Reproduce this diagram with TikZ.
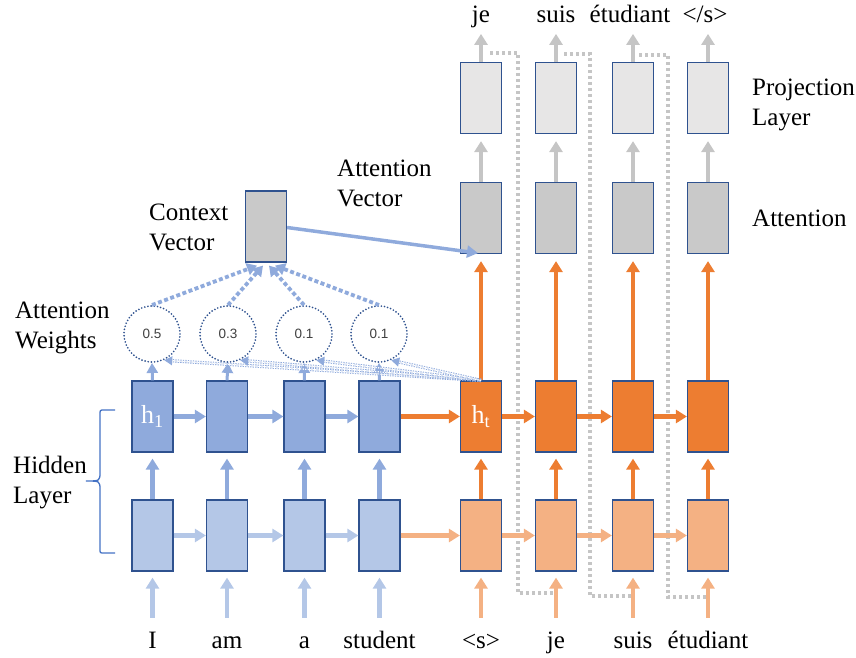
\documentclass[tikz,border=0pt]{standalone}
\usepackage{fontspec}
\setmainfont{Liberation Serif}
\newfontfamily\weightfont{Liberation Sans}
\usepackage{tikz}
\usetikzlibrary{positioning,calc,arrows.meta}

\definecolor{encup}{HTML}{8FAADC}
\definecolor{enclow}{HTML}{B4C7E7}
\definecolor{decup}{HTML}{ED7D31}
\definecolor{declow}{HTML}{F4B183}
\definecolor{attgray}{HTML}{C9C9C9}
\definecolor{projgray}{HTML}{E7E6E6}
\definecolor{flowgray}{HTML}{C5C5C5}
\definecolor{boxline}{HTML}{2F528F}
\definecolor{bracecol}{HTML}{4472C4}

\tikzset{
	cell/.style={draw=boxline, line width=1.2pt, minimum width=41pt, minimum height=71pt,
		inner sep=0pt, text=white, font=\fontsize{26}{30}\selectfont},
	topenc/.style={fill=encup},
	lowenc/.style={fill=enclow},
	topdec/.style={fill=decup},
	lowdec/.style={fill=declow},
	attcell/.style={fill=attgray},
	projcell/.style={fill=projgray},
	weight/.style={circle, draw=boxline, line width=1.9pt, line cap=round, dash pattern=on 0pt off 3.2pt,
		minimum size=56pt, inner sep=0pt, text=black!75, font=\weightfont\fontsize{13.5}{15}\selectfont},
	word/.style={font=\fontsize{25}{30}\selectfont, inner sep=0pt},
	flow/.style={line width=4.5pt, -{Triangle[width=13pt,length=11pt]}},
	feedback/.style={draw=flowgray, line width=3.5pt, dash pattern=on 3pt off 3pt},
	score/.style={draw=encup, line width=1pt, double=white, double distance=1.3pt,
		dash pattern=on 1.3pt off 1.2pt, -{Triangle[width=9pt,length=8pt]}},
	sum/.style={encup, line width=3.8pt, dash pattern=on 4pt off 2.5pt, -{Triangle[width=12pt,length=10pt]}},
}

\newcommand{\mycell}[5][]{
	\node [cell, #4] (#1) at (#2, #3) {#5};
}
\newcommand{\wflow}[3][]{
	\path [draw, flow, #1] (#2) -- (#3);
}

\begin{document}
\begin{tikzpicture}[x=1pt, y=-1pt]
		\useasboundingbox (0,0) rectangle (856,658);
		
		% words fed back into the decoder
		\draw[feedback] ($(481,98)+(9,-45)$) -| (518,593) -- (556,593);
		\draw[feedback] ($(556,98)+(8,-44)$) -| (590,596) -- (633,596);
		\draw[feedback] ($(633,98)+(6,-43)$) -| (668,597) -- (708,597);
		
		\mycell[p1]{481}{98}{projcell}{}
		\mycell[p2]{556}{98}{projcell}{}
		\mycell[p3]{633}{98}{projcell}{}
		\mycell[p4]{708}{98}{projcell}{}
		
		\mycell[a1]{481}{218}{attcell}{}
		\mycell[a2]{556}{218}{attcell}{}
		\mycell[a3]{633}{218}{attcell}{}
		\mycell[a4]{708}{218}{attcell}{}
		\mycell[ctx]{266}{226.5}{attcell}{}
		
		\mycell[e1t]{152.5}{416.5}{topenc}{h\textsubscript{1}}
		\mycell[e2t]{227}{416.5}{topenc}{}
		\mycell[e3t]{304.5}{416.5}{topenc}{}
		\mycell[e4t]{379.5}{416.5}{topenc}{}
		\mycell[d1t]{481}{416.5}{topdec}{h\textsubscript{t}}
		\mycell[d2t]{556}{416.5}{topdec}{}
		\mycell[d3t]{633}{416.5}{topdec}{}
		\mycell[d4t]{708}{416.5}{topdec}{}
		
		\mycell[e1b]{152.5}{535.5}{lowenc}{}
		\mycell[e2b]{227}{535.5}{lowenc}{}
		\mycell[e3b]{304.5}{535.5}{lowenc}{}
		\mycell[e4b]{379.5}{535.5}{lowenc}{}
		\mycell[d1b]{481}{535.5}{lowdec}{}
		\mycell[d2b]{556}{535.5}{lowdec}{}
		\mycell[d3b]{633}{535.5}{lowdec}{}
		\mycell[d4b]{708}{535.5}{lowdec}{}
		
		\node[weight] (w1) at (152,334) {0.5};
		\node[weight] (w2) at (228,334) {0.3};
		\node[weight] (w3) at (304,334) {0.1};
		\node[weight] (w4) at (379,334) {0.1};
		
		% inputs
		\wflow[enclow, shorten >=6pt]{$(e1b.south)+(0,46)$}{e1b.south}
		\wflow[enclow, shorten >=6pt]{$(e2b.south)+(0,46)$}{e2b.south}
		\wflow[enclow, shorten >=6pt]{$(e3b.south)+(0,46)$}{e3b.south}
		\wflow[enclow, shorten >=6pt]{$(e4b.south)+(0,46)$}{e4b.south}
		\wflow[declow, shorten >=6pt]{$(d1b.south)+(0,46)$}{d1b.south}
		\wflow[declow, shorten >=6pt]{$(d2b.south)+(0,46)$}{d2b.south}
		\wflow[declow, shorten >=6pt]{$(d3b.south)+(0,46)$}{d3b.south}
		\wflow[declow, shorten >=6pt]{$(d4b.south)+(0,46)$}{d4b.south}
		
		% lower layer to upper layer
		\wflow[encup, shorten >=6pt]{e1b.north}{e1t.south}
		\wflow[encup, shorten >=6pt]{e2b.north}{e2t.south}
		\wflow[encup, shorten >=6pt]{e3b.north}{e3t.south}
		\wflow[encup, shorten >=6pt]{e4b.north}{e4t.south}
		\wflow[decup, shorten >=6pt]{d1b.north}{d1t.south}
		\wflow[decup, shorten >=6pt]{d2b.north}{d2t.south}
		\wflow[decup, shorten >=6pt]{d3b.north}{d3t.south}
		\wflow[decup, shorten >=6pt]{d4b.north}{d4t.south}
		
		% recurrence
		\wflow[enclow]{e1b.east}{e2b.west}
		\wflow[enclow]{e2b.east}{e3b.west}
		\wflow[enclow]{e3b.east}{e4b.west}
		\wflow[declow]{e4b.east}{d1b.west}
		\wflow[declow]{d1b.east}{d2b.west}
		\wflow[declow]{d2b.east}{d3b.west}
		\wflow[declow]{d3b.east}{d4b.west}
		\wflow[encup]{e1t.east}{e2t.west}
		\wflow[encup]{e2t.east}{e3t.west}
		\wflow[encup]{e3t.east}{e4t.west}
		\wflow[decup]{e4t.east}{d1t.west}
		\wflow[decup]{d1t.east}{d2t.west}
		\wflow[decup]{d2t.east}{d3t.west}
		\wflow[decup]{d3t.east}{d4t.west}
		
		% decoder states up to attention and projection
		\wflow[decup, line width=3.5pt, shorten >=7pt]{d1t.north}{a1.south}
		\wflow[decup, line width=3.5pt, shorten >=7pt]{d2t.north}{a2.south}
		\wflow[decup, line width=3.5pt, shorten >=7pt]{d3t.north}{a3.south}
		\wflow[decup, line width=3.5pt, shorten >=7pt]{d4t.north}{a4.south}
		\wflow[flowgray, shorten >=7pt]{a1.north}{p1.south}
		\wflow[flowgray, shorten >=7pt]{a2.north}{p2.south}
		\wflow[flowgray, shorten >=7pt]{a3.north}{p3.south}
		\wflow[flowgray, shorten >=7pt]{a4.north}{p4.south}
		\wflow[flowgray]{p1.north}{$(p1.north)+(0,-28)$}
		\wflow[flowgray]{p2.north}{$(p2.north)+(0,-28)$}
		\wflow[flowgray]{p3.north}{$(p3.north)+(0,-28)$}
		\wflow[flowgray]{p4.north}{$(p4.north)+(0,-28)$}
		
		% scores against h_t
		\wflow[encup, line width=3pt, -{Triangle[width=11pt,length=10pt]}]{e1t.north}{w1.south}
		\wflow[encup, line width=3pt, -{Triangle[width=11pt,length=10pt]}]{e2t.north}{w2.south}
		\wflow[encup, line width=3pt, -{Triangle[width=11pt,length=10pt]}]{e3t.north}{w3.south}
		\wflow[encup, line width=3pt, -{Triangle[width=11pt,length=10pt]}]{e4t.north}{w4.south}
		\path[score] (d1t.north) -- (w1.-65);
		\path[score] (d1t.north) -- (w2.-65);
		\path[score] (d1t.north) -- (w3.-65);
		\path[score] (d1t.north) -- (w4.-65);
		
		% weighted sum into the context vector
		\wflow[sum]{w1.north}{$(ctx.south)+(-9,3)$}
		\wflow[sum]{w2.north}{$(ctx.south)+(-3,3)$}
		\wflow[sum]{w3.north}{$(ctx.south)+(3,3)$}
		\wflow[sum]{w4.north}{$(ctx.south)+(9,3)$}
		\wflow[encup, line width=3.5pt, -{Triangle[width=12pt,length=11pt]}]{$(ctx.east)+(0,1)$}{$(a1.south)+(-3,-1)$}
		
		% hidden layer brace
		\draw[bracecol, line width=1.3pt] (115,410) -- (104,410) .. controls (100,410) .. (100,415) -- (100,472)
			.. controls (100,481) .. (86,481) .. controls (100,481) .. (100,490) -- (100,549)
			.. controls (100,553) .. (104,553) -- (115,553);
		
		% words
		\node[word, anchor=base] (x1) at (152.5,648) {I};
		\node[word, anchor=base] (x2) at (227,648) {am};
		\node[word, anchor=base] (x3) at (304.5,648) {a};
		\node[word, anchor=base] (x4) at (379.5,648) {student};
		\node[word, anchor=base] (x5) at (481,648) {<s>};
		\node[word, anchor=base] (x6) at (556,648) {je};
		\node[word, anchor=base] (x7) at (633,648) {suis};
		\node[word, anchor=base] (x8) at (708,648) {étudiant};
		\node[word, anchor=base] (y1) at (481,23) {je};
		\node[word, anchor=base] (y2) at (556,23) {suis};
		\node[word, anchor=base] (y3) at (630,23) {étudiant};
		\node[word, anchor=base] (y4) at (705,23) {</s>};
		
		% layer labels (base is the second line)
		\node[word, align=left, anchor=base west] (lproj) at (752,125) {Projection\\Layer};
		\node[word, anchor=base west] (latt) at (752,226) {Attention};
		\node[word, align=left, anchor=base west] (lvec) at (337,206) {Attention\\Vector};
		\node[word, align=left, anchor=base west] (lctx) at (149,250) {Context\\Vector};
		\node[word, align=left, anchor=base west] (lwgt) at (15,348) {Attention\\Weights};
		\node[word, align=left, anchor=base west] (lhid) at (13,503) {Hidden\\Layer};
\end{tikzpicture}
\end{document}
